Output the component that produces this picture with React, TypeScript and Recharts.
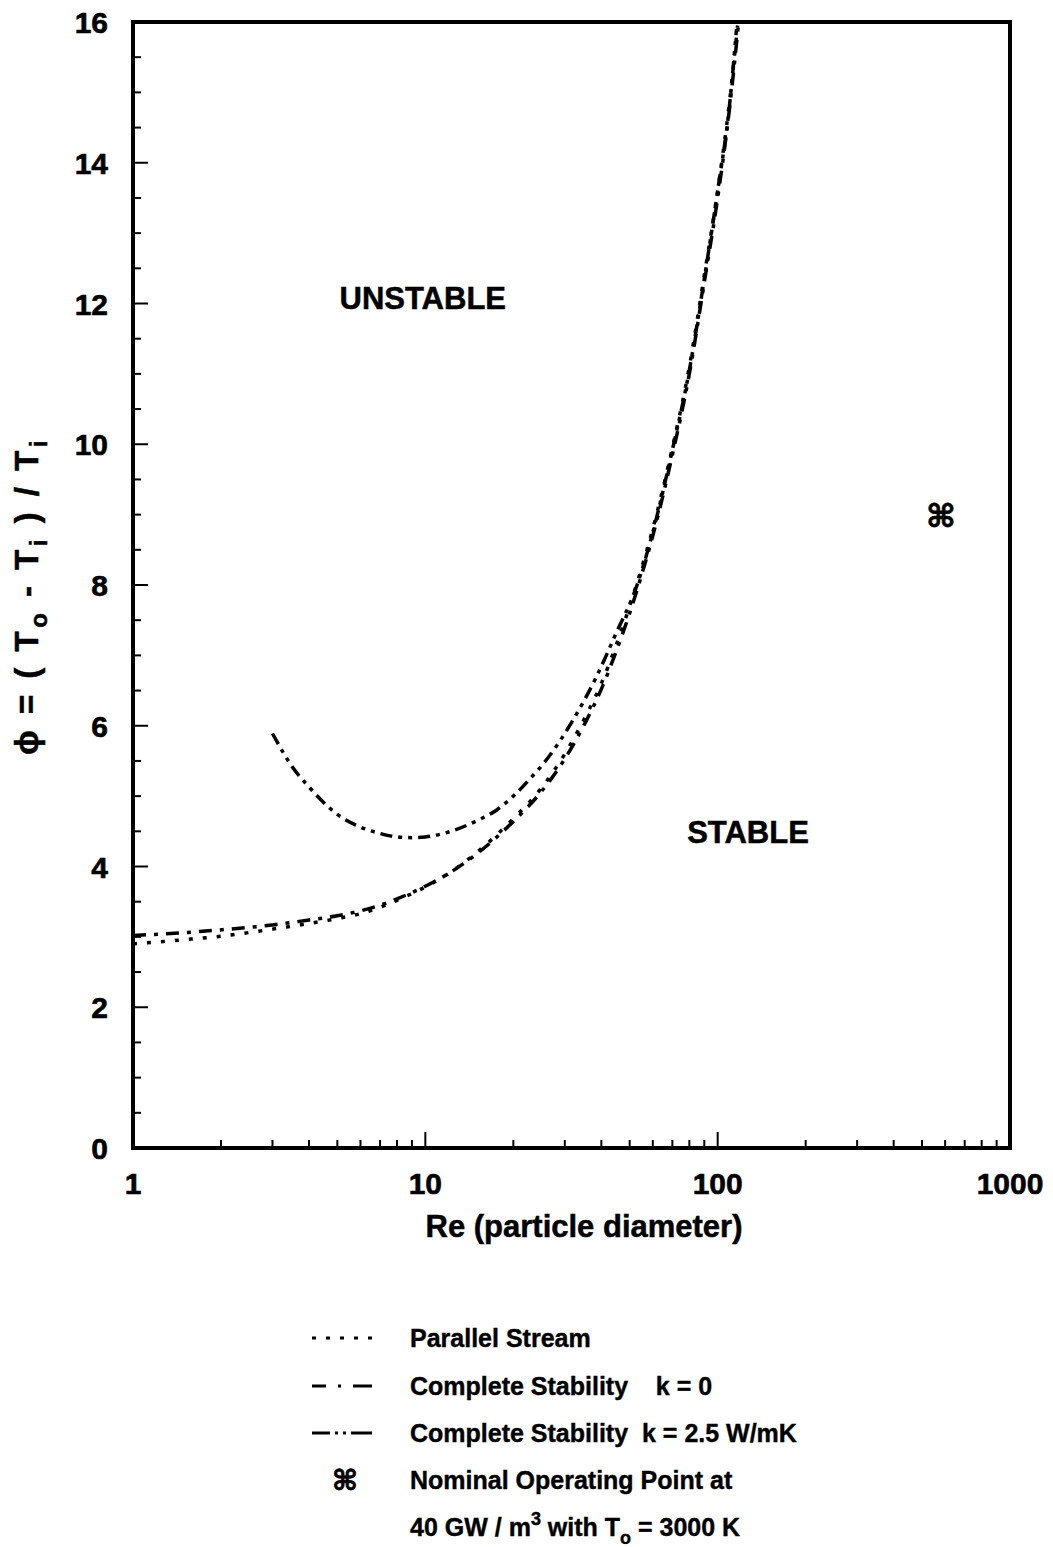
import { ComposedChart, Line, Scatter, XAxis, YAxis, ReferenceArea, ReferenceDot } from "recharts";

const FONT = '"Liberation Sans", Arial, Helvetica, sans-serif';

// Re (particle diameter) vs phi
const parallelRe = [1, 1.5, 2, 3, 4, 5, 6, 7, 8, 10, 12, 15, 20, 25, 30, 35, 40, 45, 50, 55, 60, 70, 80, 90, 100, 110, 117];
const parallelPhi = [2.9, 2.96, 3.01, 3.11, 3.19, 3.26, 3.33, 3.42, 3.52, 3.71, 3.9, 4.2, 4.68, 5.12, 5.6, 6.1, 6.6, 7.15, 7.7, 8.25, 8.8, 9.95, 11.1, 12.4, 13.6, 14.9, 15.95];

const k0Re = [1, 1.5, 2, 3, 4, 5, 6, 7, 8, 10, 12, 15, 20, 25, 30, 35, 40, 45, 50, 55, 60, 70, 80, 90, 100, 110, 118];
const k0Phi = [3.02, 3.06, 3.1, 3.17, 3.24, 3.3, 3.37, 3.45, 3.54, 3.72, 3.9, 4.18, 4.64, 5.07, 5.53, 6.02, 6.52, 7.06, 7.6, 8.15, 8.7, 9.85, 11.0, 12.3, 13.5, 14.8, 16.0];

const k25Re = [3, 3.5, 4, 5, 6, 7, 8, 9, 10, 12, 15, 17.5, 20, 22.5, 26, 32, 38, 45, 53, 60, 70, 80, 90, 100, 110, 116];
const k25Phi = [5.89, 5.42, 5.13, 4.74, 4.56, 4.47, 4.42, 4.41, 4.42, 4.49, 4.65, 4.8, 5.0, 5.22, 5.52, 6.08, 6.65, 7.32, 8.0, 8.75, 9.92, 11.05, 12.35, 13.6, 14.85, 15.9];

const nominalRe = [580];
const nominalPhi = [9.0];

const xTicks = [1, 2, 3, 4, 5, 6, 7, 8, 9, 10, 20, 30, 40, 50, 60, 70, 80, 90, 100, 200, 300, 400, 500, 600, 700, 800, 900, 1000];
const xLabels = [1, 10, 100, 1000];
const yTicks = [0, 0.5, 1, 1.5, 2, 2.5, 3, 3.5, 4, 4.5, 5, 5.5, 6, 6.5, 7, 7.5, 8, 8.5, 9, 9.5, 10, 10.5, 11, 11.5, 12, 12.5, 13, 13.5, 14, 14.5, 15, 15.5, 16];

const toPoints = (xs: number[], ys: number[]) => xs.map((re, i) => ({ re, phi: ys[i] }));

const parallelData = toPoints(parallelRe, parallelPhi);
const k0Data = toPoints(k0Re, k0Phi);
const k25Data = toPoints(k25Re, k25Phi);
const nominalData = toPoints(nominalRe, nominalPhi);

const DOTTED = "4 10";
const DASH_DOT = "13 8 4 8";
const DASH_DOT_DOT = "12 6 4 6 4 6";

const XTick = (props: any) => {
  const { x, y, payload } = props;
  const v = payload.value;
  const major = xLabels.includes(v);
  return (
    <g>
      <line x1={x} x2={x} y1={y} y2={y - (major ? 16 : 8)} stroke="#000" strokeWidth={2} />
      {major && (
        <text x={x} y={y + 46} textAnchor="middle" fontFamily={FONT} fontWeight="bold" fontSize={30} fill="#000" stroke="#000" strokeWidth={0.6}>
          {v}
        </text>
      )}
    </g>
  );
};

const YTick = (props: any) => {
  const { x, y, payload } = props;
  const v = payload.value;
  const major = v % 2 === 0;
  return (
    <g>
      <line x1={x} x2={x + (major ? 15 : 8)} y1={y} y2={y} stroke="#000" strokeWidth={2} />
      {major && (
        <text x={x - 25} y={y + 11} textAnchor="end" fontFamily={FONT} fontWeight="bold" fontSize={30} fill="#000" stroke="#000" strokeWidth={0.6}>
          {v}
        </text>
      )}
    </g>
  );
};

const regionLabel = (text: string) => (p: any) => (
  <text x={p.cx} y={p.cy + 11} textAnchor="middle" fontFamily={FONT} fontWeight="bold" fontSize={31} fill="#000" stroke="#000" strokeWidth={0.5}>
    {text}
  </text>
);

const NominalMark = (p: any) => (
  <text x={p.cx} y={p.cy + 12} textAnchor="middle" fontFamily='"DejaVu Sans", sans-serif' fontWeight="bold" fontSize={32} fill="#000" stroke="#000" strokeWidth={0.8}>
    ⌘
  </text>
);

const App = () => {
  return (
    <div style={{ position: "absolute", left: 0, top: 0, width: 1053, height: 1547, background: "#fff" }}>
      <ComposedChart width={1053} height={1547} margin={{ top: 22, right: 43, bottom: 339, left: 0 }}>
        <XAxis
          type="number"
          dataKey="re"
          scale="log"
          domain={[1, 1000]}
          ticks={xTicks}
          interval={0}
          tick={<XTick />}
          tickLine={false}
          tickSize={0}
          tickMargin={0}
          axisLine={false}
          height={60}
          allowDataOverflow
        />
        <YAxis
          type="number"
          dataKey="phi"
          domain={[0, 16]}
          ticks={yTicks}
          interval={0}
          tick={<YTick />}
          tickLine={false}
          tickSize={0}
          tickMargin={0}
          axisLine={false}
          width={133}
          allowDataOverflow
        />
        <ReferenceArea x1={1} x2={1000} y1={0} y2={16} fill="none" fillOpacity={0} stroke="#000" strokeWidth={4} />

        <Line data={parallelData} dataKey="phi" type="monotone" stroke="#000" strokeWidth={3.5} strokeDasharray={DOTTED} dot={false} isAnimationActive={false} />
        <Line data={k0Data} dataKey="phi" type="monotone" stroke="#000" strokeWidth={3.5} strokeDasharray={DASH_DOT} dot={false} isAnimationActive={false} />
        <Line data={k25Data} dataKey="phi" type="monotone" stroke="#000" strokeWidth={3.5} strokeDasharray={DASH_DOT_DOT} dot={false} isAnimationActive={false} />
        <Scatter data={nominalData} dataKey="phi" shape={NominalMark} isAnimationActive={false} />

        <ReferenceDot x={9.8} y={12.08} r={0} shape={regionLabel("UNSTABLE")} />
        <ReferenceDot x={127} y={4.49} r={0} shape={regionLabel("STABLE")} />
      </ComposedChart>

      {/* axis titles */}
      <svg width={1053} height={1547} style={{ position: "absolute", left: 0, top: 0, pointerEvents: "none" }}>
        <text x={584} y={1237} textAnchor="middle" fontFamily={FONT} fontWeight="bold" fontSize={31} fill="#000" stroke="#000" strokeWidth={0.5}>
          Re (particle diameter)
        </text>
        <text
          transform="translate(38 596) rotate(-90)"
          textAnchor="middle"
          fontFamily={FONT}
          fontWeight="bold"
          fontSize={33}
          letterSpacing={3.5}
          fill="#000"
          stroke="#000"
          strokeWidth={0.5}
        >
          <tspan>ϕ = ( T</tspan>
          <tspan dy={9} fontSize={24}>o</tspan>
          <tspan dy={-9}> - T</tspan>
          <tspan dy={9} fontSize={24}>i</tspan>
          <tspan dy={-9}> ) / T</tspan>
          <tspan dy={9} fontSize={24}>i</tspan>
        </text>

        {/* legend */}
        <g fontFamily={FONT} fontWeight="bold" fontSize={25} fill="#000">
          <line x1={312} x2={372} y1={1338} y2={1338} stroke="#000" strokeWidth={3} strokeDasharray={DOTTED} />
          <text x={410} y={1347} stroke="#000" strokeWidth={0.4}>Parallel Stream</text>

          <line x1={312} x2={372} y1={1386} y2={1386} stroke="#000" strokeWidth={3} strokeDasharray="14 12 3 12 19" />
          <text x={410} y={1395} stroke="#000" strokeWidth={0.4} style={{ whiteSpace: "pre" }}>{"Complete Stability    k = 0"}</text>

          <line x1={312} x2={372} y1={1433} y2={1433} stroke="#000" strokeWidth={3} strokeDasharray="18 5 3 5 3 5 21" />
          <text x={410} y={1442} stroke="#000" strokeWidth={0.4} style={{ whiteSpace: "pre" }}>{"Complete Stability  k = 2.5 W/mK"}</text>

          <text x={345} y={1490} textAnchor="middle" fontFamily='"DejaVu Sans", sans-serif' fontSize={28} stroke="#000" strokeWidth={0.8}>⌘</text>
          <text x={410} y={1489} stroke="#000" strokeWidth={0.4}>Nominal Operating Point at</text>

          <text x={410} y={1536} stroke="#000" strokeWidth={0.4}>
            <tspan>40 GW / m</tspan>
            <tspan dy={-11} fontSize={18}>3</tspan>
            <tspan dy={11}> with T</tspan>
            <tspan dy={8} fontSize={18}>o</tspan>
            <tspan dy={-8}> = 3000 K</tspan>
          </text>
        </g>
      </svg>
    </div>
  );
};

export default App;
